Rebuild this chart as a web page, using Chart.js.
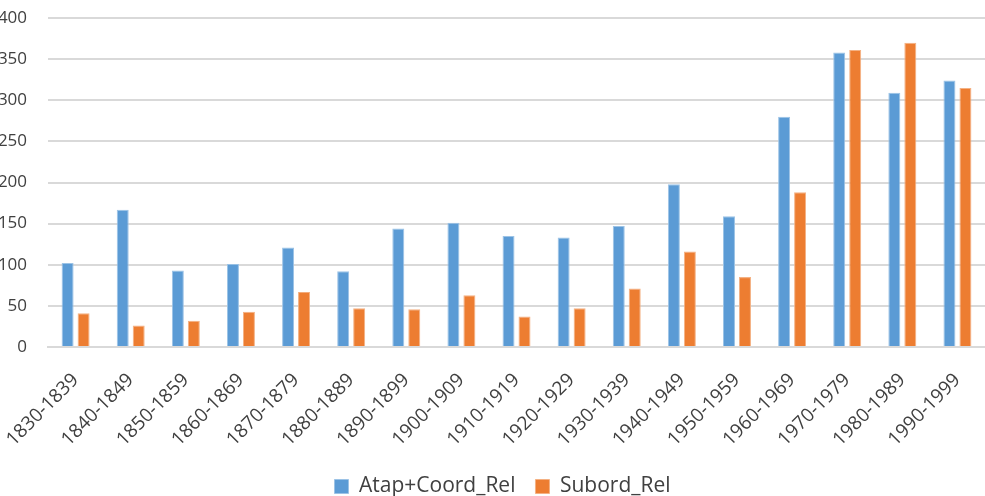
<!DOCTYPE html>
<html>
<head>
<meta charset="utf-8">
<script src="https://cdn.jsdelivr.net/npm/chart.js@4"></script>
<style>
  html, body { margin: 0; padding: 0; background: #fff; overflow: hidden; }
  #wrap { position: absolute; left: -14px; top: 0; width: 999px; height: 496px; }
</style>
</head>
<body>
<div id="wrap"><canvas id="chart"></canvas></div>
<script>
// Data
const decades = ['1830-1839', '1840-1849', '1850-1859', '1860-1869', '1870-1879', '1880-1889',
  '1890-1899', '1900-1909', '1910-1919', '1920-1929', '1930-1939', '1940-1949',
  '1950-1959', '1960-1969', '1970-1979', '1980-1989', '1990-1999'];
const atapCoord = [102, 167, 93, 101, 121, 92, 144, 151, 135, 133, 147, 198, 159, 280, 358, 309, 324];
const subord = [41, 26, 32, 43, 67, 47, 46, 63, 37, 47, 71, 116, 85, 188, 361, 370, 315];

const font = "'Open Sans', sans-serif";
const textColor = '#404040';
const gridColor = '#d9d9d9';

// legend sits a little right of centre in the original
const legendShift = {
  id: 'legendShift',
  afterLayout(chart) {
    chart.legend.left += 17;
    chart.legend.right += 17;
  }
};

const ctx = document.getElementById('chart').getContext('2d');
new Chart(ctx, {
  type: 'bar',
  data: {
    labels: decades,
    datasets: [
      {
        label: 'Atap+Coord_Rel',
        data: atapCoord,
        backgroundColor: '#5B9BD5',
        borderColor: '#9cc3e6',
        borderWidth: 1,
        categoryPercentage: 0.58,
        barPercentage: 0.75
      },
      {
        label: 'Subord_Rel',
        data: subord,
        backgroundColor: '#ED7D31',
        borderColor: '#f4b183',
        borderWidth: 1,
        categoryPercentage: 0.58,
        barPercentage: 0.75
      }
    ]
  },
  options: {
    responsive: true,
    maintainAspectRatio: false,
    animation: false,
    layout: { padding: { top: 18, right: 0, bottom: -11, left: 0 } },
    scales: {
      y: {
        min: 0,
        max: 400,
        ticks: { stepSize: 50, color: textColor, font: { family: font, size: 17 }, padding: 21 },
        grid: { color: gridColor, lineWidth: 2, drawTicks: false },
        border: { display: false },
        afterFit: (scale) => {
          scale.width = 62;
          // the tick padding would otherwise push the plot down
          scale.paddingTop = 0;
          scale.paddingBottom = 0;
        }
      },
      x: {
        ticks: { color: textColor, font: { family: font, size: 19 }, minRotation: 45, maxRotation: 45, padding: 22 },
        grid: { display: false, drawTicks: false },
        border: { color: gridColor, width: 2 },
        afterFit: (scale) => {
          scale.height = 109;
          scale.paddingRight = 0;
        }
      }
    },
    plugins: {
      legend: {
        position: 'bottom',
        labels: { color: textColor, font: { family: font, size: 21 }, boxWidth: 14, boxHeight: 14, padding: 20 }
      },
      tooltip: { enabled: false }
    }
  },
  plugins: [legendShift]
});
</script>
</body>
</html>
